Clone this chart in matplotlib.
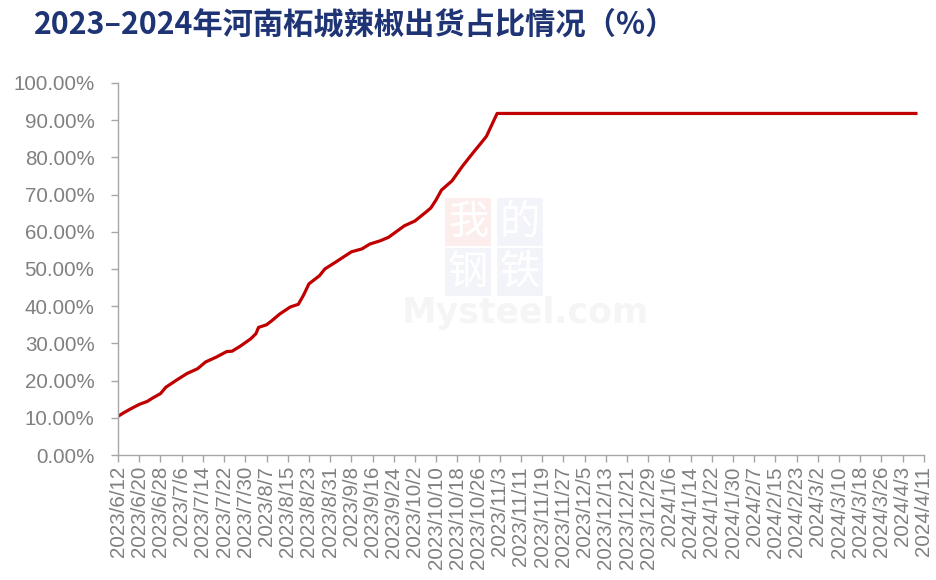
import matplotlib
matplotlib.use('Agg')
import matplotlib.pyplot as plt
import pandas as pd

plt.rcParams['font.family'] = ['Noto Sans CJK SC', 'DejaVu Sans']

# 出货占比 (%)
dates = ['2023-06-12', '2023-06-14', '2023-06-17', '2023-06-20', '2023-06-23',
         '2023-06-25', '2023-06-28', '2023-06-30', '2023-07-04', '2023-07-08',
         '2023-07-12', '2023-07-15', '2023-07-19', '2023-07-23', '2023-07-25',
         '2023-07-28', '2023-08-01', '2023-08-03', '2023-08-04', '2023-08-07',
         '2023-08-09', '2023-08-12', '2023-08-16', '2023-08-19', '2023-08-21',
         '2023-08-23', '2023-08-27', '2023-08-29', '2023-09-02', '2023-09-08',
         '2023-09-12', '2023-09-15', '2023-09-19', '2023-09-22', '2023-09-28',
         '2023-10-02', '2023-10-06', '2023-10-08', '2023-10-10', '2023-10-12',
         '2023-10-16', '2023-10-20', '2023-10-24', '2023-10-27', '2023-10-29',
         '2023-11-02', '2024-04-08']
share = [10.4, 11.3, 12.5, 13.6, 14.4,
         15.3, 16.5, 18.2, 20.1, 21.9,
         23.2, 25.0, 26.3, 27.8, 27.9,
         29.2, 31.2, 32.6, 34.3, 35.0,
         36.1, 37.9, 39.8, 40.5, 43.0,
         46.0, 48.2, 50.0, 51.8, 54.6,
         55.4, 56.7, 57.6, 58.5, 61.6,
         62.9, 65.2, 66.4, 68.6, 71.2,
         73.7, 77.7, 81.3, 83.9, 85.7,
         91.8, 91.8]

tick_labels = ['2023/6/12', '2023/6/20', '2023/6/28', '2023/7/6', '2023/7/14',
               '2023/7/22', '2023/7/30', '2023/8/7', '2023/8/15', '2023/8/23',
               '2023/8/31', '2023/9/8', '2023/9/16', '2023/9/24', '2023/10/2',
               '2023/10/10', '2023/10/18', '2023/10/26', '2023/11/3', '2023/11/11',
               '2023/11/19', '2023/11/27', '2023/12/5', '2023/12/13', '2023/12/21',
               '2023/12/29', '2024/1/6', '2024/1/14', '2024/1/22', '2024/1/30',
               '2024/2/7', '2024/2/15', '2024/2/23', '2024/3/2', '2024/3/10',
               '2024/3/18', '2024/3/26', '2024/4/3', '2024/4/11']

x = pd.to_datetime(dates)
ticks = pd.to_datetime(tick_labels, format='%Y/%m/%d')

fig = plt.figure(figsize=(9.37, 5.8), dpi=100)
ax = fig.add_axes([0.126, 0.2155, 0.86, 0.6415])

# watermark (behind the line)
wm = [('我', 468, 222, '#FDEEEE'), ('的', 520, 222, '#F3F4FA'),
      ('钢', 468, 272, '#F3F4FA'), ('铁', 520, 272, '#F3F4FA')]
for ch, px, py, bg in wm:
    fig.text(px / 937, 1 - py / 580, ch, fontsize=29, color='white',
             ha='center', va='center', zorder=0,
             bbox=dict(boxstyle='square,pad=0.08', fc=bg, ec='none'))
fig.text(525 / 937, 1 - 313 / 580, 'Mysteel.com', fontsize=25, color='#F5F5F5',
         fontweight='bold', family='DejaVu Sans', ha='center', va='center', zorder=0)
ax.set_facecolor('none')

ax.plot(x, share, color='#C00000', lw=2.3, solid_joinstyle='round')

ax.set_xlim(ticks[0], ticks[-1])
ax.set_ylim(0, 100)
ax.set_yticks(range(0, 101, 10))
ax.set_yticklabels([f'{v:.2f}%' for v in range(0, 101, 10)])
ax.set_xticks(ticks)
ax.set_xticklabels(tick_labels, rotation=90, va='top', ha='center')

grey = '#A6A6A6'
for s in ['top', 'right']:
    ax.spines[s].set_visible(False)
for s in ['left', 'bottom']:
    ax.spines[s].set_color(grey)
    ax.spines[s].set_linewidth(1.0)
ax.tick_params(axis='both', colors=grey, length=5, width=1.0, direction='out')
ax.tick_params(axis='both', labelcolor='#808080')
for lab in ax.get_xticklabels() + ax.get_yticklabels():
    lab.set_family('Liberation Sans')
    lab.set_fontsize(14.8)
ax.tick_params(axis='x', pad=3)
ax.tick_params(axis='y', pad=12)

fig.text(34 / 937, 1 - 25 / 580, '2023–2024年河南柘城辣椒出货占比情况（%）',
         fontsize=21.8, fontweight='bold', color='#1F3475', ha='left', va='center')

fig.savefig('out.png', dpi=100)
